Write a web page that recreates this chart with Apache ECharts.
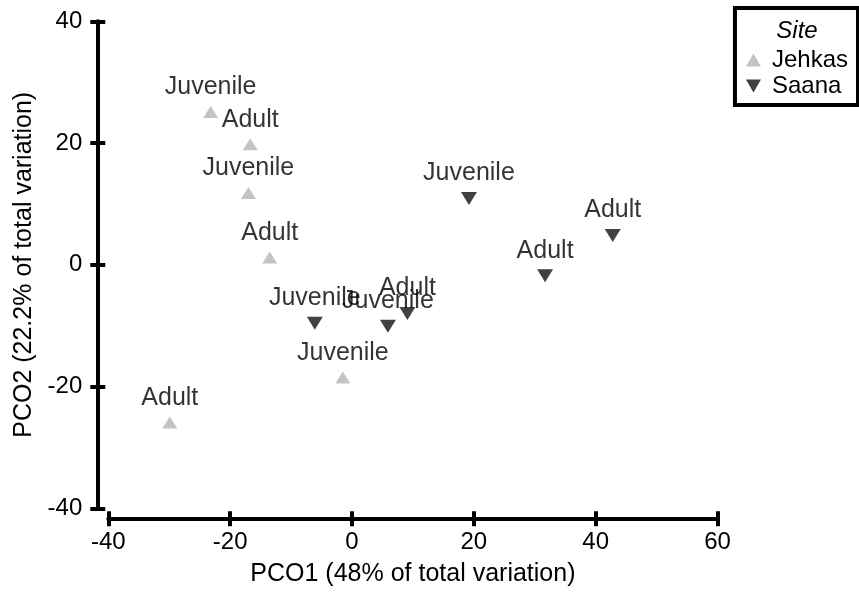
<!DOCTYPE html>
<html>
<head>
<meta charset="utf-8">
<script src="https://cdn.jsdelivr.net/npm/echarts@6/dist/echarts.min.js"></script>
<style>html,body{margin:0;padding:0;background:#fff}#c{width:859px;height:592px}</style>
</head>
<body>
<div id="c"></div>
<script>
// Data
const jehkasX = [-23.2, -16.7, -17.0, -13.5, -1.5, -29.9];
const jehkasY = [25.1, 19.8, 11.8, 1.2, -18.5, -25.9];
const jehkasStage = ['Juvenile', 'Adult', 'Juvenile', 'Adult', 'Juvenile', 'Adult'];

const saanaX = [-6.1, 5.9, 9.1, 19.2, 31.7, 42.8];
const saanaY = [-9.6, -10.1, -8.0, 10.9, -1.8, 4.8];
const saanaStage = ['Juvenile', 'Juvenile', 'Adult', 'Juvenile', 'Adult', 'Adult'];

const xTicks = [-40, -20, 0, 20, 40, 60];
const yTicks = [-40, -20, 0, 20, 40];

const FONT = "'Liberation Sans', Arial, sans-serif";
const DOWN_TRIANGLE = 'path://M0,0 L10,0 L5,8.66 Z';

function pts(xs, ys, labels) {
  return xs.map((x, i) => ({ value: [x, ys[i]], label: { formatter: labels[i] } }));
}

const chart = echarts.init(document.getElementById('c'), null, { renderer: 'canvas' });

const axisLineStyle = { color: '#000', width: 4 };
const baseX = {
  type: 'value', min: xTicks[0], max: xTicks[xTicks.length - 1], interval: 20,
  position: 'bottom', offset: 10, splitLine: { show: false }
};
const baseY = {
  type: 'value', min: yTicks[0], max: yTicks[yTicks.length - 1], interval: 20,
  position: 'left', offset: 11, splitLine: { show: false }
};

chart.setOption({
  animation: false,
  backgroundColor: '#fff',
  textStyle: { fontFamily: FONT },
  grid: { left: 108.3, right: 141.5, top: 21.3, bottom: 83.7, containLabel: false, outerBoundsMode: 'none' },
  xAxis: [
    Object.assign({}, baseX, {
      name: 'PCO1 (48% of total variation)',
      nameLocation: 'middle', nameGap: 43,
      nameTextStyle: { fontSize: 25, color: '#000', fontFamily: FONT },
      axisLine: { show: true, onZero: false, lineStyle: axisLineStyle },
      axisTick: { show: true, length: 8, lineStyle: { color: '#000', width: 4 } },
      axisLabel: { fontSize: 24, color: '#000', margin: 12, fontFamily: FONT }
    }),
    Object.assign({}, baseX, {
      axisLine: { show: false, onZero: false },
      axisTick: { show: true, inside: true, length: 7, lineStyle: { color: '#000', width: 4 } },
      axisLabel: { show: false }
    })
  ],
  yAxis: [
    Object.assign({}, baseY, {
      name: 'PCO2 (22.2% of total variation)',
      nameLocation: 'middle', nameGap: 57,
      nameTextStyle: { fontSize: 25, color: '#000', fontFamily: FONT },
      axisLine: { show: true, onZero: false, lineStyle: axisLineStyle },
      axisTick: { show: true, length: 7, lineStyle: { color: '#000', width: 4 } },
      axisLabel: { fontSize: 24, color: '#000', margin: 15, fontFamily: FONT }
    }),
    Object.assign({}, baseY, {
      axisLine: { show: false, onZero: false },
      axisTick: { show: true, inside: true, length: 8, lineStyle: { color: '#000', width: 4 } },
      axisLabel: { show: false }
    })
  ],
  legend: {
    orient: 'vertical', right: 1, top: 8,
    data: ['Jehkas', 'Saana'],
    padding: [40, 10, 7, 11],
    itemGap: 2, itemWidth: 15, itemHeight: 13,
    borderColor: '#000', borderWidth: 4,
    textStyle: { fontSize: 24, color: '#000', fontFamily: FONT, padding: [0, 0, 0, 6] }
  },
  graphic: [{
    type: 'text', x: 797, y: 31,
    style: { text: 'Site', font: "italic 24px 'Liberation Sans', Arial, sans-serif", fill: '#000', align: 'center', verticalAlign: 'middle' }
  }],
  series: [
    {
      name: 'Jehkas', type: 'scatter', xAxisIndex: 0, yAxisIndex: 0,
      symbol: 'triangle', symbolSize: [15, 12],
      itemStyle: { color: '#b4b4b4' },
      label: { show: true, position: 'top', distance: 6, fontSize: 25, color: '#000', fontFamily: FONT },
      data: pts(jehkasX, jehkasY, jehkasStage)
    },
    {
      name: 'Saana', type: 'scatter', xAxisIndex: 0, yAxisIndex: 0,
      symbol: DOWN_TRIANGLE, symbolSize: [16, 13],
      itemStyle: { color: '#111' },
      label: { show: true, position: 'top', distance: 6, fontSize: 25, color: '#000', fontFamily: FONT },
      data: pts(saanaX, saanaY, saanaStage)
    }
  ]
});
</script>
</body>
</html>
